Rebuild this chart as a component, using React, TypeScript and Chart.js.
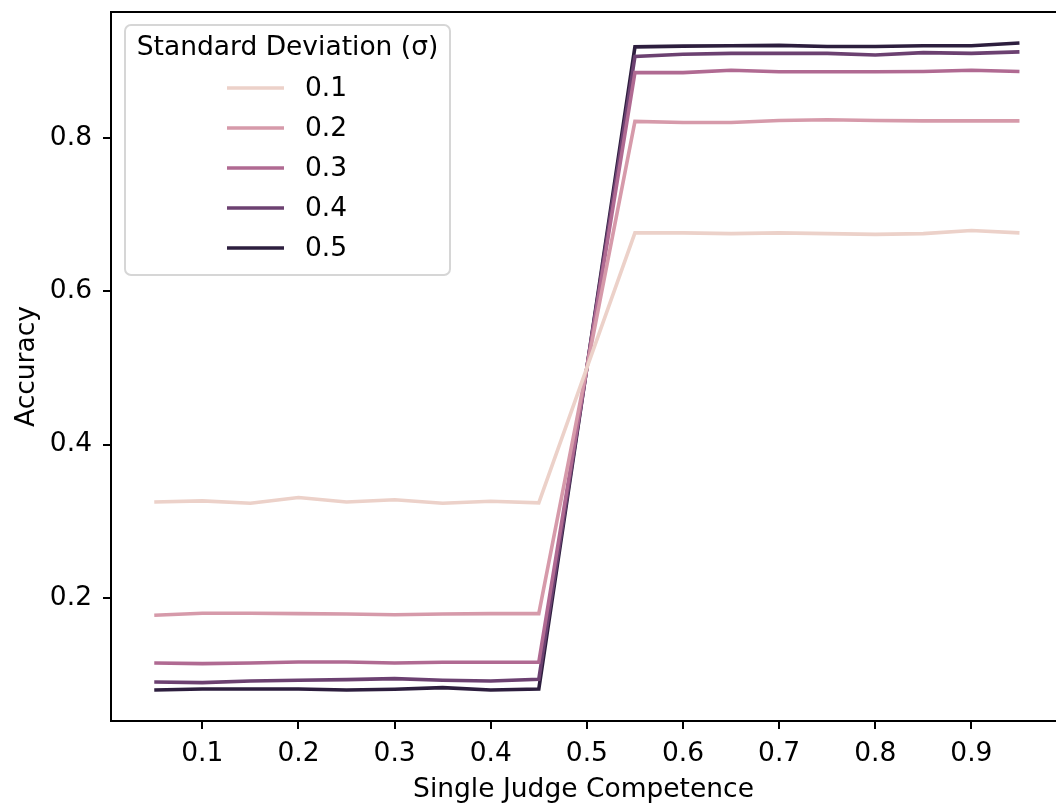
import React, { useEffect, useRef } from "react";
import { Chart, registerables } from "chart.js";

Chart.register(...registerables);

const xValues = [0.05, 0.1, 0.15, 0.2, 0.25, 0.3, 0.35, 0.4, 0.45, 0.5, 0.55, 0.6, 0.65, 0.7, 0.75, 0.8, 0.85, 0.9, 0.95];

const sd01 = [0.325, 0.3265, 0.3235, 0.331, 0.325, 0.328, 0.3235, 0.326, 0.324, 0.5, 0.676, 0.676, 0.675, 0.676, 0.675, 0.674, 0.675, 0.679, 0.676];
const sd02 = [0.1774, 0.18, 0.18, 0.1795, 0.179, 0.178, 0.179, 0.1795, 0.1795, 0.5, 0.8213, 0.82, 0.82, 0.8225, 0.8235, 0.8225, 0.822, 0.822, 0.822];
const sd03 = [0.1152, 0.1143, 0.1152, 0.1165, 0.1165, 0.1152, 0.1161, 0.1161, 0.1161, 0.5, 0.885, 0.885, 0.888, 0.886, 0.886, 0.886, 0.8865, 0.888, 0.8865];
const sd04 = [0.0904, 0.0896, 0.0917, 0.0926, 0.0935, 0.0948, 0.0926, 0.0917, 0.0939, 0.5, 0.906, 0.909, 0.91, 0.91, 0.91, 0.908, 0.911, 0.91, 0.912];
const sd05 = [0.08, 0.0813, 0.0813, 0.0813, 0.08, 0.0809, 0.083, 0.08, 0.0813, 0.5, 0.9185, 0.9195, 0.92, 0.9205, 0.919, 0.919, 0.92, 0.92, 0.9235];

const seriesLabels = ["0.1", "0.2", "0.3", "0.4", "0.5"];
const seriesValues = [sd01, sd02, sd03, sd04, sd05];
const seriesColors = ["#ecd1c9", "#d69aaa", "#b06a92", "#6c4171", "#2d1e3e"];

const xTicks = [0.1, 0.2, 0.3, 0.4, 0.5, 0.6, 0.7, 0.8, 0.9];
const yTicks = [0.2, 0.4, 0.6, 0.8];

const legendTitle = "Standard Deviation (σ)";
const xTitle = "Single Judge Competence";
const yTitle = "Accuracy";

const FONT = "'DejaVu Sans', sans-serif";
const FS = 26.5;

const legendPlugin = {
  id: "mplLegend",
  afterDraw(chart: any) {
    const ctx = chart.ctx;
    const ca = chart.chartArea;
    ctx.save();
    // top spine
    ctx.strokeStyle = "#000";
    ctx.lineWidth = 2;
    ctx.beginPath();
    ctx.moveTo(ca.left - 1, ca.top);
    ctx.lineTo(ca.right + 2, ca.top);
    ctx.stroke();

    const bx = ca.left + 14;
    const by = ca.top + 13;
    const bw = 325;
    const bh = 250;
    const r = 6;
    ctx.beginPath();
    ctx.moveTo(bx + r, by);
    ctx.lineTo(bx + bw - r, by);
    ctx.arcTo(bx + bw, by, bx + bw, by + r, r);
    ctx.lineTo(bx + bw, by + bh - r);
    ctx.arcTo(bx + bw, by + bh, bx + bw - r, by + bh, r);
    ctx.lineTo(bx + r, by + bh);
    ctx.arcTo(bx, by + bh, bx, by + bh - r, r);
    ctx.lineTo(bx, by + r);
    ctx.arcTo(bx, by, bx + r, by, r);
    ctx.closePath();
    ctx.fillStyle = "rgba(255,255,255,0.8)";
    ctx.fill();
    ctx.strokeStyle = "#d6d6d6";
    ctx.lineWidth = 2;
    ctx.stroke();

    ctx.font = `${FS}px ${FONT}`;
    ctx.fillStyle = "#000";
    ctx.textBaseline = "middle";
    ctx.textAlign = "center";
    ctx.fillText(legendTitle, bx + bw / 2, by + 23);

    ctx.textAlign = "left";
    chart.data.datasets.forEach((ds: any, i: number) => {
      const yy = by + 63 + i * 40;
      ctx.strokeStyle = ds.borderColor;
      ctx.lineWidth = 3.5;
      ctx.beginPath();
      ctx.moveTo(bx + 102, yy);
      ctx.lineTo(bx + 159, yy);
      ctx.stroke();
      ctx.fillStyle = "#000";
      ctx.fillText(ds.label, bx + 180, yy + 1);
    });
    ctx.restore();
  },
};

export default function App() {
  const ref = useRef<HTMLCanvasElement | null>(null);
  useEffect(() => {
    if (!ref.current) return;
    const datasets = seriesValues.map((vals, i) => ({
      label: seriesLabels[i],
      data: vals.map((v, j) => ({ x: xValues[j], y: v })),
      borderColor: seriesColors[i],
      backgroundColor: seriesColors[i],
      borderWidth: 3.6,
      pointRadius: 0,
      tension: 0,
      fill: false,
    }));
    const chart = new Chart(ref.current, {
      type: "line",
      data: { datasets },
      options: {
        animation: false,
        responsive: false,
        layout: { padding: { top: 12, right: 0, left: 0, bottom: 0 } },
        plugins: { legend: { display: false }, tooltip: { enabled: false } },
        scales: {
          x: {
            type: "linear",
            min: 0.005,
            max: 0.988,
            afterBuildTicks: (s: any) => {
              s.ticks = xTicks.map((v) => ({ value: v }));
            },
            afterFit: (s: any) => {
              s.height = 86;
              s.paddingLeft = 0;
              s.paddingRight = 0;
            },
            grid: { drawOnChartArea: false, drawTicks: true, tickLength: 8, color: "#000", lineWidth: 2 },
            border: { display: true, color: "#000", width: 2 },
            ticks: {
              color: "#000",
              font: { family: FONT, size: FS },
              padding: 9,
              maxRotation: 0,
              autoSkip: false,
              callback: (v: any) => Number(v).toFixed(1),
            },
            title: {
              display: true,
              text: xTitle,
              color: "#000",
              font: { family: FONT, size: FS },
              padding: { top: 0, bottom: 1 },
            },
          },
          y: {
            type: "linear",
            min: 0.0395,
            max: 0.964,
            afterBuildTicks: (s: any) => {
              s.ticks = yTicks.map((v) => ({ value: v }));
            },
            afterFit: (s: any) => {
              s.width = 111;
              s.paddingTop = 0;
              s.paddingBottom = 0;
            },
            grid: { drawOnChartArea: false, drawTicks: true, tickLength: 8, color: "#000", lineWidth: 2 },
            border: { display: true, color: "#000", width: 2 },
            ticks: {
              color: "#000",
              font: { family: FONT, size: FS },
              padding: 11,
              autoSkip: false,
              callback: (v: any) => Number(v).toFixed(1),
            },
            title: {
              display: true,
              text: yTitle,
              color: "#000",
              font: { family: FONT, size: FS },
              padding: { top: 11, bottom: 0 },
            },
          },
        },
      },
      plugins: [legendPlugin],
    });
    return () => chart.destroy();
  }, []);
  return (
    <div style={{ position: "fixed", left: 0, top: 0, width: 1056, height: 807, background: "#fff" }}>
      <canvas ref={ref} width={1056} height={807} style={{ display: "block", width: 1056, height: 807 }} />
    </div>
  );
}
